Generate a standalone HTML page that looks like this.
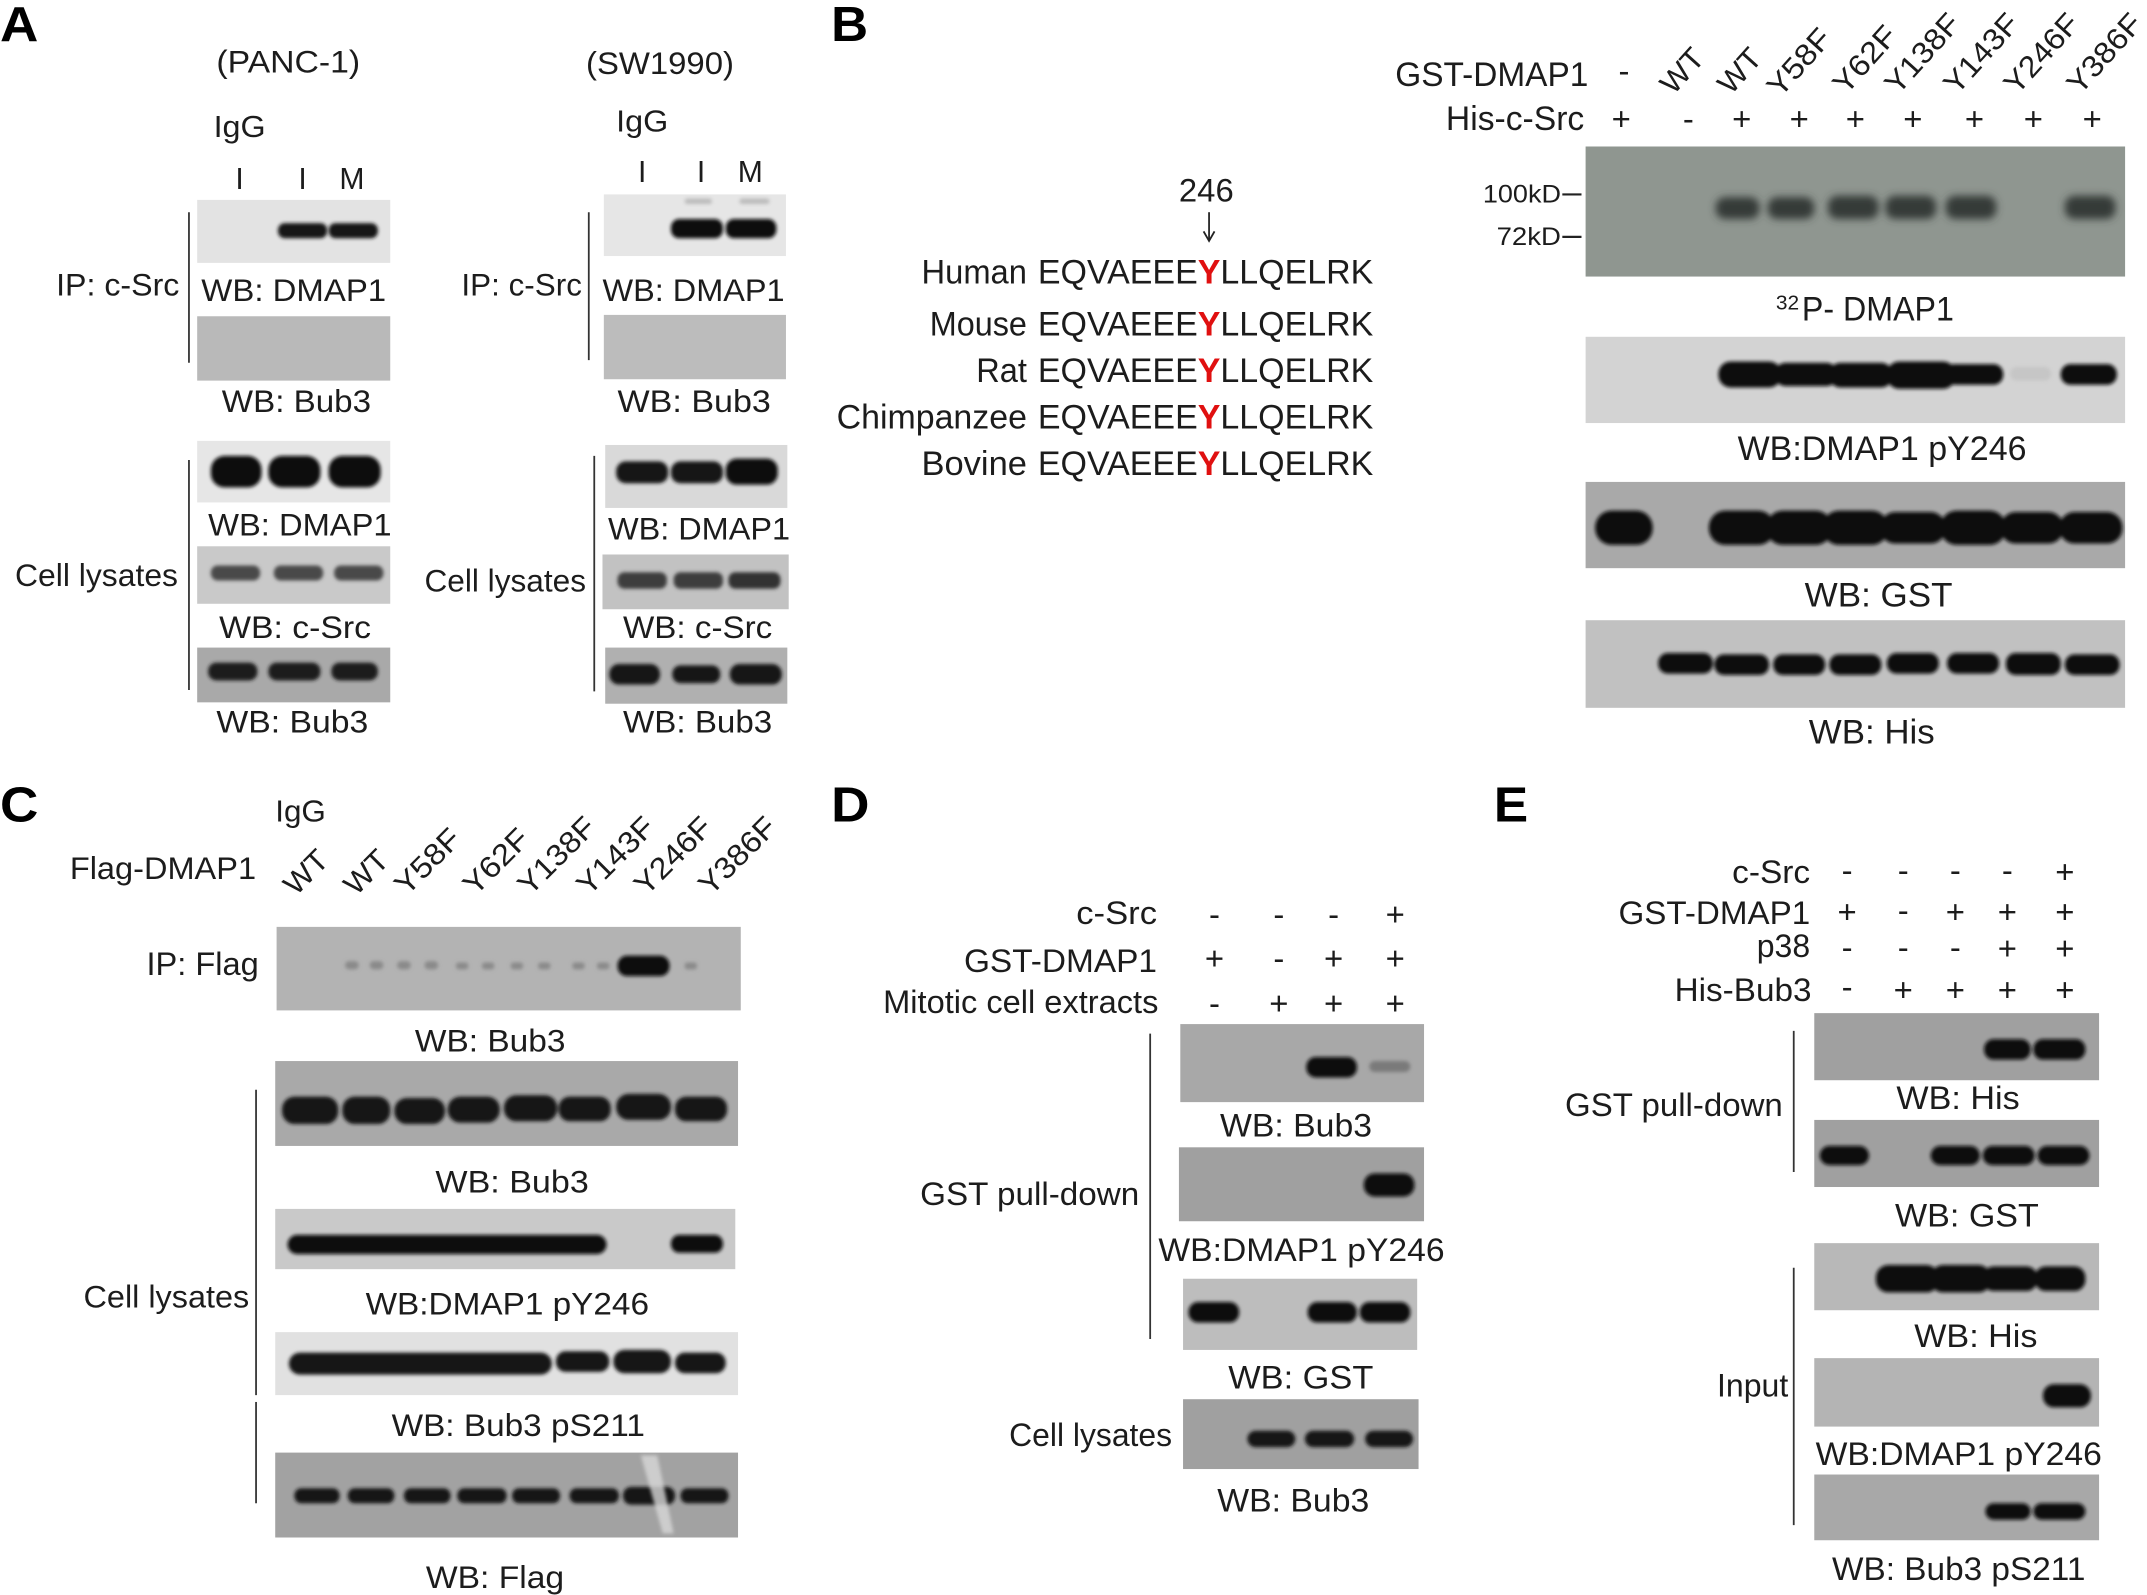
<!DOCTYPE html>
<html><head><meta charset="utf-8"><style>
html,body{margin:0;padding:0;background:#fff;}
svg{display:block;}
text{font-family:"Liberation Sans",Arial,sans-serif;fill:#1c1c1c;}
.bold{font-weight:bold;fill:#000;}
</style></head><body>
<svg width="2147" height="1595" viewBox="0 0 1568 1165" preserveAspectRatio="none" xmlns="http://www.w3.org/2000/svg">
<defs>
<filter id="b" x="-20%" y="-50%" width="140%" height="200%"><feGaussianBlur stdDeviation="1.3"/></filter>
<filter id="b3" x="-30%" y="-80%" width="160%" height="260%"><feGaussianBlur stdDeviation="3"/></filter>
</defs>
<rect width="1568" height="1165" fill="#fff"/>

<!-- ================= PANEL A ================= -->
<text x="0" y="30" font-size="36" class="bold" textLength="28" lengthAdjust="spacingAndGlyphs">A</text>
<text x="158" y="53" font-size="23" textLength="105" lengthAdjust="spacingAndGlyphs">(PANC-1)</text>
<text x="428" y="54" font-size="23" textLength="108" lengthAdjust="spacingAndGlyphs">(SW1990)</text>
<text x="156" y="100" font-size="22" textLength="38" lengthAdjust="spacingAndGlyphs">IgG</text>
<text x="450" y="96" font-size="22" textLength="38" lengthAdjust="spacingAndGlyphs">IgG</text>
<g font-size="22" text-anchor="middle">
<text x="175" y="138">I</text><text x="221" y="138">I</text><text x="257" y="138">M</text>
<text x="469" y="133">I</text><text x="512" y="133">I</text><text x="548" y="133">M</text>
</g>
<!-- left column -->
<rect x="144" y="146" width="141" height="46" fill="#e3e3e3"/>
<rect x="203" y="163" width="36" height="11" rx="5" fill="#141414" filter="url(#b)"/>
<rect x="240" y="163" width="36" height="11" rx="5" fill="#141414" filter="url(#b)"/>
<text x="147" y="220" font-size="23" textLength="135" lengthAdjust="spacingAndGlyphs">WB: DMAP1</text>
<rect x="144" y="231" width="141" height="47" fill="#b9b9b9"/>
<text x="162" y="301" font-size="23" textLength="109" lengthAdjust="spacingAndGlyphs">WB: Bub3</text>
<line x1="138" y1="155" x2="138" y2="265" stroke="#333" stroke-width="1.3"/>
<text x="41" y="216" font-size="23" textLength="90" lengthAdjust="spacingAndGlyphs">IP: c-Src</text>

<rect x="144" y="322" width="141" height="45" fill="#e6e6e6"/>
<rect x="154" y="333" width="37" height="23" rx="10" fill="#111" filter="url(#b)"/>
<rect x="196" y="333" width="38" height="23" rx="10" fill="#111" filter="url(#b)"/>
<rect x="240" y="333" width="38" height="23" rx="10" fill="#111" filter="url(#b)"/>
<text x="152" y="391" font-size="23" textLength="134" lengthAdjust="spacingAndGlyphs">WB: DMAP1</text>
<rect x="144" y="399" width="141" height="42" fill="#c9c9c9"/>
<rect x="154" y="413" width="36" height="11" rx="5" fill="#4a4a4a" filter="url(#b)"/>
<rect x="200" y="413" width="36" height="11" rx="5" fill="#4a4a4a" filter="url(#b)"/>
<rect x="244" y="413" width="36" height="11" rx="5" fill="#4a4a4a" filter="url(#b)"/>
<text x="160" y="466" font-size="23" textLength="111" lengthAdjust="spacingAndGlyphs">WB: c-Src</text>
<rect x="144" y="473" width="141" height="40" fill="#a9a9a9"/>
<rect x="152" y="484" width="36" height="13" rx="6" fill="#1a1a1a" filter="url(#b)"/>
<rect x="196" y="484" width="38" height="13" rx="6" fill="#1a1a1a" filter="url(#b)"/>
<rect x="242" y="484" width="34" height="13" rx="6" fill="#1a1a1a" filter="url(#b)"/>
<text x="158" y="535" font-size="23" textLength="111" lengthAdjust="spacingAndGlyphs">WB: Bub3</text>
<line x1="138" y1="336" x2="138" y2="504" stroke="#333" stroke-width="1.3"/>
<text x="11" y="428" font-size="23" textLength="119" lengthAdjust="spacingAndGlyphs">Cell lysates</text>

<!-- right column -->
<rect x="441" y="142" width="133" height="45" fill="#e6e6e6"/>
<rect x="500" y="145" width="20" height="4" rx="2" fill="#bcbcbc" filter="url(#b)"/>
<rect x="540" y="145" width="22" height="4" rx="2" fill="#bcbcbc" filter="url(#b)"/>
<rect x="490" y="160" width="38" height="14" rx="6" fill="#111" filter="url(#b)"/>
<rect x="530" y="160" width="37" height="14" rx="6" fill="#111" filter="url(#b)"/>
<text x="440" y="220" font-size="23" textLength="133" lengthAdjust="spacingAndGlyphs">WB: DMAP1</text>
<rect x="441" y="230" width="133" height="47" fill="#bcbcbc"/>
<text x="451" y="301" font-size="23" textLength="112" lengthAdjust="spacingAndGlyphs">WB: Bub3</text>
<line x1="430" y1="155" x2="430" y2="263" stroke="#333" stroke-width="1.3"/>
<text x="337" y="216" font-size="23" textLength="88" lengthAdjust="spacingAndGlyphs">IP: c-Src</text>

<rect x="442" y="325" width="133" height="46" fill="#d9d9d9"/>
<rect x="450" y="337" width="38" height="16" rx="7" fill="#141414" filter="url(#b)"/>
<rect x="490" y="337" width="38" height="16" rx="7" fill="#141414" filter="url(#b)"/>
<rect x="530" y="335" width="38" height="19" rx="8" fill="#111" filter="url(#b)"/>
<text x="444" y="394" font-size="23" textLength="133" lengthAdjust="spacingAndGlyphs">WB: DMAP1</text>
<rect x="440" y="405" width="136" height="40" fill="#c2c2c2"/>
<rect x="451" y="418" width="36" height="12" rx="5" fill="#3c3c3c" filter="url(#b)"/>
<rect x="492" y="418" width="36" height="12" rx="5" fill="#3c3c3c" filter="url(#b)"/>
<rect x="532" y="418" width="38" height="12" rx="5" fill="#303030" filter="url(#b)"/>
<text x="455" y="466" font-size="23" textLength="109" lengthAdjust="spacingAndGlyphs">WB: c-Src</text>
<rect x="442" y="473" width="133" height="41" fill="#b0b0b0"/>
<rect x="445" y="485" width="37" height="15" rx="7" fill="#141414" filter="url(#b)"/>
<rect x="491" y="486" width="35" height="13" rx="6" fill="#141414" filter="url(#b)"/>
<rect x="533" y="485" width="38" height="15" rx="7" fill="#141414" filter="url(#b)"/>
<text x="455" y="535" font-size="23" textLength="109" lengthAdjust="spacingAndGlyphs">WB: Bub3</text>
<line x1="434" y1="333" x2="434" y2="505" stroke="#333" stroke-width="1.3"/>
<text x="310" y="432" font-size="23" textLength="118" lengthAdjust="spacingAndGlyphs">Cell lysates</text>

<!-- ================= PANEL B ================= -->
<text x="607" y="30" font-size="36" class="bold" textLength="27" lengthAdjust="spacingAndGlyphs">B</text>
<text x="1019" y="63" font-size="25" textLength="141" lengthAdjust="spacingAndGlyphs">GST-DMAP1</text>
<text x="1186" y="60" font-size="24" text-anchor="middle">-</text>
<g font-size="22">
<text transform="translate(1222,70) rotate(-48)" textLength="36" lengthAdjust="spacingAndGlyphs">WT</text>
<text transform="translate(1264,70) rotate(-48)" textLength="36" lengthAdjust="spacingAndGlyphs">WT</text>
<text transform="translate(1300,72) rotate(-48)" textLength="58" lengthAdjust="spacingAndGlyphs">Y58F</text>
<text transform="translate(1348,70) rotate(-48)" textLength="58" lengthAdjust="spacingAndGlyphs">Y62F</text>
<text transform="translate(1386,70) rotate(-48)" textLength="70" lengthAdjust="spacingAndGlyphs">Y138F</text>
<text transform="translate(1429,70) rotate(-48)" textLength="70" lengthAdjust="spacingAndGlyphs">Y143F</text>
<text transform="translate(1473,70) rotate(-48)" textLength="70" lengthAdjust="spacingAndGlyphs">Y246F</text>
<text transform="translate(1519,70) rotate(-48)" textLength="70" lengthAdjust="spacingAndGlyphs">Y386F</text>
</g>
<text x="1056" y="95" font-size="25" textLength="101" lengthAdjust="spacingAndGlyphs">His-c-Src</text>
<g font-size="24" text-anchor="middle">
<text x="1184" y="95">+</text><text x="1233" y="95">-</text><text x="1272" y="95">+</text>
<text x="1314" y="95">+</text><text x="1355" y="95">+</text><text x="1397" y="95">+</text>
<text x="1442" y="95">+</text><text x="1485" y="95">+</text><text x="1528" y="95">+</text>
</g>
<!-- 32P gel -->
<rect x="1158" y="107" width="394" height="95" fill="#8f9690"/>
<g fill="#353a37" filter="url(#b3)">
<rect x="1253" y="144" width="32" height="16" rx="7"/>
<rect x="1291" y="144" width="34" height="16" rx="7"/>
<rect x="1335" y="143" width="37" height="17" rx="7"/>
<rect x="1377" y="143" width="37" height="17" rx="7"/>
<rect x="1421" y="143" width="37" height="17" rx="7"/>
<rect x="1508" y="143" width="37" height="17" rx="7"/>
</g>
<text x="1083" y="148" font-size="18" textLength="57" lengthAdjust="spacingAndGlyphs">100kD</text>
<line x1="1141" y1="142" x2="1155" y2="142" stroke="#222" stroke-width="1.6"/>
<text x="1093" y="179" font-size="18" textLength="47" lengthAdjust="spacingAndGlyphs">72kD</text>
<line x1="1141" y1="173" x2="1155" y2="173" stroke="#222" stroke-width="1.6"/>
<text x="1297" y="226" font-size="15" textLength="17" lengthAdjust="spacingAndGlyphs">32</text>
<text x="1316" y="234" font-size="25" textLength="111" lengthAdjust="spacingAndGlyphs">P- DMAP1</text>
<!-- pY246 -->
<rect x="1158" y="246" width="394" height="63" fill="#d3d3d3"/>
<g fill="#0e0e0e" filter="url(#b)">
<rect x="1255" y="264" width="46" height="19" rx="9"/>
<rect x="1296" y="265" width="46" height="17" rx="8"/>
<rect x="1336" y="265" width="46" height="18" rx="8"/>
<rect x="1378" y="264" width="50" height="20" rx="9"/>
<rect x="1420" y="266" width="43" height="15" rx="7"/>
<rect x="1505" y="266" width="41" height="15" rx="7"/>
</g>
<rect x="1468" y="268" width="30" height="10" rx="5" fill="#c6c6c6" filter="url(#b)"/>
<text x="1269" y="336" font-size="25" textLength="211" lengthAdjust="spacingAndGlyphs">WB:DMAP1 pY246</text>
<!-- GST -->
<rect x="1158" y="352" width="394" height="63" fill="#a9a9a9"/>
<g fill="#0c0c0c" filter="url(#b)">
<rect x="1165" y="373" width="42" height="25" rx="12"/>
<rect x="1248" y="373" width="48" height="25" rx="12"/>
<rect x="1290" y="373" width="48" height="25" rx="12"/>
<rect x="1331" y="373" width="48" height="25" rx="12"/>
<rect x="1373" y="374" width="48" height="23" rx="11"/>
<rect x="1417" y="373" width="48" height="25" rx="12"/>
<rect x="1461" y="374" width="46" height="23" rx="11"/>
<rect x="1504" y="374" width="46" height="23" rx="11"/>
</g>
<text x="1318" y="443" font-size="25" textLength="108" lengthAdjust="spacingAndGlyphs">WB: GST</text>
<!-- His -->
<rect x="1158" y="453" width="394" height="64" fill="#c1c1c1"/>
<g fill="#0e0e0e" filter="url(#b)">
<rect x="1211" y="477" width="40" height="15" rx="7"/>
<rect x="1252" y="478" width="40" height="15" rx="7"/>
<rect x="1295" y="478" width="38" height="15" rx="7"/>
<rect x="1336" y="478" width="38" height="15" rx="7"/>
<rect x="1378" y="477" width="38" height="15" rx="7"/>
<rect x="1422" y="477" width="38" height="15" rx="7"/>
<rect x="1465" y="477" width="40" height="16" rx="7"/>
<rect x="1508" y="478" width="40" height="15" rx="7"/>
</g>
<text x="1321" y="543" font-size="25" textLength="92" lengthAdjust="spacingAndGlyphs">WB: His</text>

<!-- Sequence alignment -->
<text x="861" y="147" font-size="24" textLength="40" lengthAdjust="spacingAndGlyphs">246</text>
<line x1="883" y1="155" x2="883" y2="175" stroke="#222" stroke-width="1.3"/>
<path d="M879 169 L883 176 L887 169" fill="none" stroke="#222" stroke-width="1.3"/>
<g font-size="25">
<text x="673" y="207" textLength="77" lengthAdjust="spacingAndGlyphs">Human</text>
<text x="758" y="207" textLength="245" lengthAdjust="spacingAndGlyphs">EQVAEEE<tspan fill="#e01010" font-weight="bold">Y</tspan>LLQELRK</text>
<text x="679" y="245" textLength="71" lengthAdjust="spacingAndGlyphs">Mouse</text>
<text x="758" y="245" textLength="245" lengthAdjust="spacingAndGlyphs">EQVAEEE<tspan fill="#e01010" font-weight="bold">Y</tspan>LLQELRK</text>
<text x="713" y="279" textLength="37" lengthAdjust="spacingAndGlyphs">Rat</text>
<text x="758" y="279" textLength="245" lengthAdjust="spacingAndGlyphs">EQVAEEE<tspan fill="#e01010" font-weight="bold">Y</tspan>LLQELRK</text>
<text x="611" y="313" textLength="139" lengthAdjust="spacingAndGlyphs">Chimpanzee</text>
<text x="758" y="313" textLength="245" lengthAdjust="spacingAndGlyphs">EQVAEEE<tspan fill="#e01010" font-weight="bold">Y</tspan>LLQELRK</text>
<text x="673" y="347" textLength="77" lengthAdjust="spacingAndGlyphs">Bovine</text>
<text x="758" y="347" textLength="245" lengthAdjust="spacingAndGlyphs">EQVAEEE<tspan fill="#e01010" font-weight="bold">Y</tspan>LLQELRK</text>
</g>

<!-- ================= PANEL C ================= -->
<text x="0" y="600" font-size="36" class="bold" textLength="28" lengthAdjust="spacingAndGlyphs">C</text>
<text x="201" y="600" font-size="22" textLength="37" lengthAdjust="spacingAndGlyphs">IgG</text>
<text x="51" y="642" font-size="23" textLength="136" lengthAdjust="spacingAndGlyphs">Flag-DMAP1</text>
<g font-size="22">
<text transform="translate(216,655) rotate(-45)" textLength="36" lengthAdjust="spacingAndGlyphs">WT</text>
<text transform="translate(260,655) rotate(-45)" textLength="36" lengthAdjust="spacingAndGlyphs">WT</text>
<text transform="translate(297,655) rotate(-45)" textLength="58" lengthAdjust="spacingAndGlyphs">Y58F</text>
<text transform="translate(347,655) rotate(-45)" textLength="58" lengthAdjust="spacingAndGlyphs">Y62F</text>
<text transform="translate(387,655) rotate(-45)" textLength="70" lengthAdjust="spacingAndGlyphs">Y138F</text>
<text transform="translate(430,655) rotate(-45)" textLength="70" lengthAdjust="spacingAndGlyphs">Y143F</text>
<text transform="translate(472,655) rotate(-45)" textLength="70" lengthAdjust="spacingAndGlyphs">Y246F</text>
<text transform="translate(519,655) rotate(-45)" textLength="70" lengthAdjust="spacingAndGlyphs">Y386F</text>
</g>
<rect x="202" y="677" width="339" height="61" fill="#b3b3b3"/>
<g fill="#8a8a8a" filter="url(#b)">
<rect x="252" y="702" width="10" height="6" rx="3"/><rect x="270" y="702" width="10" height="6" rx="3"/>
<rect x="290" y="702" width="10" height="6" rx="3"/><rect x="310" y="702" width="10" height="6" rx="3"/>
<rect x="333" y="703" width="9" height="5" rx="2"/><rect x="352" y="703" width="9" height="5" rx="2"/>
<rect x="373" y="703" width="9" height="5" rx="2"/><rect x="393" y="703" width="9" height="5" rx="2"/>
<rect x="418" y="703" width="9" height="5" rx="2"/><rect x="436" y="703" width="9" height="5" rx="2"/>
<rect x="500" y="703" width="9" height="5" rx="2"/>
</g>
<rect x="451" y="698" width="38" height="15" rx="7" fill="#0c0c0c" filter="url(#b)"/>
<text x="107" y="712" font-size="24" textLength="82" lengthAdjust="spacingAndGlyphs">IP: Flag</text>
<text x="303" y="768" font-size="23" textLength="110" lengthAdjust="spacingAndGlyphs">WB: Bub3</text>
<rect x="201" y="775" width="338" height="62" fill="#a9a9a9"/>
<g fill="#121212" filter="url(#b)">
<rect x="206" y="801" width="41" height="20" rx="9"/><rect x="250" y="801" width="35" height="20" rx="9"/>
<rect x="288" y="802" width="37" height="19" rx="9"/><rect x="327" y="801" width="38" height="19" rx="9"/>
<rect x="368" y="800" width="39" height="19" rx="9"/><rect x="408" y="801" width="38" height="18" rx="8"/>
<rect x="450" y="799" width="40" height="19" rx="9"/><rect x="493" y="801" width="38" height="18" rx="8"/>
</g>
<text x="318" y="871" font-size="23" textLength="112" lengthAdjust="spacingAndGlyphs">WB: Bub3</text>
<rect x="201" y="883" width="336" height="44" fill="#c9c9c9"/>
<g fill="#111" filter="url(#b)">
<rect x="210" y="902" width="233" height="14" rx="7"/>
<rect x="490" y="902" width="38" height="13" rx="6"/>
</g>
<text x="267" y="960" font-size="23" textLength="207" lengthAdjust="spacingAndGlyphs">WB:DMAP1 pY246</text>
<rect x="201" y="973" width="338" height="46" fill="#e1e1e1"/>
<g fill="#131313" filter="url(#b)">
<rect x="211" y="988" width="192" height="16" rx="8"/>
<rect x="406" y="987" width="39" height="15" rx="7"/>
<rect x="448" y="986" width="42" height="17" rx="8"/>
<rect x="493" y="988" width="37" height="15" rx="7"/>
</g>
<text x="286" y="1049" font-size="23" textLength="185" lengthAdjust="spacingAndGlyphs">WB: Bub3 pS211</text>
<rect x="201" y="1061" width="338" height="62" fill="#a2a2a2"/>
<g fill="#141414" filter="url(#b)">
<rect x="215" y="1087" width="33" height="11" rx="5"/><rect x="254" y="1087" width="34" height="11" rx="5"/>
<rect x="295" y="1087" width="34" height="11" rx="5"/><rect x="334" y="1087" width="36" height="11" rx="5"/>
<rect x="374" y="1087" width="35" height="11" rx="5"/><rect x="416" y="1087" width="36" height="11" rx="5"/>
<rect x="455" y="1086" width="38" height="13" rx="6"/><rect x="497" y="1087" width="35" height="11" rx="5"/>
</g>
<path d="M468 1063 L480 1063 L492 1120 L484 1120 Z" fill="#d8d8d8" opacity="0.8" filter="url(#b)"/>
<text x="311" y="1160" font-size="23" textLength="101" lengthAdjust="spacingAndGlyphs">WB: Flag</text>
<text x="61" y="955" font-size="23" textLength="121" lengthAdjust="spacingAndGlyphs">Cell lysates</text>
<line x1="187" y1="796" x2="187" y2="1019" stroke="#333" stroke-width="1.3"/>
<line x1="187" y1="1024" x2="187" y2="1098" stroke="#333" stroke-width="1.3"/>

<!-- ================= PANEL D ================= -->
<text x="607" y="600" font-size="36" class="bold" textLength="28" lengthAdjust="spacingAndGlyphs">D</text>
<text x="786" y="675" font-size="24" textLength="59" lengthAdjust="spacingAndGlyphs">c-Src</text>
<text x="704" y="710" font-size="24" textLength="141" lengthAdjust="spacingAndGlyphs">GST-DMAP1</text>
<text x="645" y="740" font-size="24" textLength="201" lengthAdjust="spacingAndGlyphs">Mitotic cell extracts</text>
<g font-size="24" text-anchor="middle">
<text x="887" y="676">-</text><text x="934" y="676">-</text><text x="974" y="676">-</text><text x="1019" y="676">+</text>
<text x="887" y="708">+</text><text x="934" y="708">-</text><text x="974" y="708">+</text><text x="1019" y="708">+</text>
<text x="887" y="741">-</text><text x="934" y="741">+</text><text x="974" y="741">+</text><text x="1019" y="741">+</text>
</g>
<rect x="862" y="748" width="178" height="57" fill="#a8a8a8"/>
<rect x="954" y="772" width="37" height="15" rx="7" fill="#0e0e0e" filter="url(#b)"/>
<rect x="1000" y="775" width="30" height="8" rx="4" fill="#7a7a7a" filter="url(#b)"/>
<text x="891" y="830" font-size="24" textLength="111" lengthAdjust="spacingAndGlyphs">WB: Bub3</text>
<rect x="861" y="838" width="179" height="54" fill="#a0a0a0"/>
<rect x="996" y="857" width="37" height="17" rx="8" fill="#0c0c0c" filter="url(#b)"/>
<text x="846" y="921" font-size="24" textLength="209" lengthAdjust="spacingAndGlyphs">WB:DMAP1 pY246</text>
<rect x="864" y="934" width="171" height="52" fill="#bdbdbd"/>
<g fill="#0e0e0e" filter="url(#b)">
<rect x="868" y="951" width="37" height="15" rx="7"/>
<rect x="955" y="951" width="36" height="15" rx="7"/>
<rect x="993" y="951" width="37" height="15" rx="7"/>
</g>
<text x="897" y="1014" font-size="24" textLength="106" lengthAdjust="spacingAndGlyphs">WB: GST</text>
<rect x="864" y="1022" width="172" height="51" fill="#a0a0a0"/>
<g fill="#141414" filter="url(#b)">
<rect x="911" y="1045" width="35" height="12" rx="6"/>
<rect x="953" y="1045" width="36" height="12" rx="6"/>
<rect x="997" y="1045" width="35" height="12" rx="6"/>
</g>
<text x="889" y="1104" font-size="24" textLength="111" lengthAdjust="spacingAndGlyphs">WB: Bub3</text>
<text x="737" y="1056" font-size="24" textLength="119" lengthAdjust="spacingAndGlyphs">Cell lysates</text>
<text x="672" y="880" font-size="24" textLength="160" lengthAdjust="spacingAndGlyphs">GST pull-down</text>
<line x1="840" y1="755" x2="840" y2="978" stroke="#333" stroke-width="1.3"/>

<!-- ================= PANEL E ================= -->
<text x="1091" y="600" font-size="36" class="bold" textLength="25" lengthAdjust="spacingAndGlyphs">E</text>
<text x="1265" y="645" font-size="24" textLength="57" lengthAdjust="spacingAndGlyphs">c-Src</text>
<text x="1182" y="675" font-size="24" textLength="140" lengthAdjust="spacingAndGlyphs">GST-DMAP1</text>
<text x="1283" y="699" font-size="24" textLength="39" lengthAdjust="spacingAndGlyphs">p38</text>
<text x="1223" y="731" font-size="24" textLength="100" lengthAdjust="spacingAndGlyphs">His-Bub3</text>
<g font-size="24" text-anchor="middle">
<text x="1349" y="644">-</text><text x="1390" y="644">-</text><text x="1428" y="644">-</text><text x="1466" y="644">-</text><text x="1508" y="645">+</text>
<text x="1349" y="674">+</text><text x="1390" y="673">-</text><text x="1428" y="674">+</text><text x="1466" y="674">+</text><text x="1508" y="674">+</text>
<text x="1349" y="700">-</text><text x="1390" y="700">-</text><text x="1428" y="700">-</text><text x="1466" y="701">+</text><text x="1508" y="701">+</text>
<text x="1349" y="729">-</text><text x="1390" y="731">+</text><text x="1428" y="731">+</text><text x="1466" y="731">+</text><text x="1508" y="731">+</text>
</g>
<rect x="1325" y="740" width="208" height="49" fill="#a0a0a0"/>
<g fill="#0c0c0c" filter="url(#b)">
<rect x="1449" y="759" width="34" height="15" rx="7"/>
<rect x="1485" y="759" width="38" height="15" rx="7"/>
</g>
<text x="1385" y="810" font-size="24" textLength="90" lengthAdjust="spacingAndGlyphs">WB: His</text>
<rect x="1325" y="818" width="208" height="49" fill="#a0a0a0"/>
<g fill="#0e0e0e" filter="url(#b)">
<rect x="1329" y="837" width="36" height="14" rx="7"/>
<rect x="1410" y="837" width="36" height="14" rx="7"/>
<rect x="1448" y="837" width="38" height="14" rx="7"/>
<rect x="1488" y="837" width="38" height="14" rx="7"/>
</g>
<text x="1384" y="896" font-size="24" textLength="105" lengthAdjust="spacingAndGlyphs">WB: GST</text>
<rect x="1325" y="908" width="208" height="49" fill="#b8b8b8"/>
<g fill="#0c0c0c" filter="url(#b)">
<rect x="1370" y="924" width="46" height="20" rx="9"/>
<rect x="1410" y="924" width="44" height="20" rx="9"/>
<rect x="1448" y="925" width="40" height="18" rx="8"/>
<rect x="1486" y="925" width="37" height="18" rx="8"/>
</g>
<text x="1398" y="984" font-size="24" textLength="90" lengthAdjust="spacingAndGlyphs">WB: His</text>
<rect x="1325" y="992" width="208" height="50" fill="#b4b4b4"/>
<rect x="1492" y="1011" width="35" height="17" rx="8" fill="#0c0c0c" filter="url(#b)"/>
<text x="1326" y="1070" font-size="24" textLength="209" lengthAdjust="spacingAndGlyphs">WB:DMAP1 pY246</text>
<rect x="1325" y="1077" width="208" height="48" fill="#a8a8a8"/>
<g fill="#0e0e0e" filter="url(#b)">
<rect x="1450" y="1098" width="33" height="12" rx="6"/>
<rect x="1485" y="1098" width="38" height="12" rx="6"/>
</g>
<text x="1338" y="1154" font-size="24" textLength="185" lengthAdjust="spacingAndGlyphs">WB: Bub3 pS211</text>
<text x="1143" y="815" font-size="24" textLength="159" lengthAdjust="spacingAndGlyphs">GST pull-down</text>
<text x="1254" y="1020" font-size="24" textLength="52" lengthAdjust="spacingAndGlyphs">Input</text>
<line x1="1310" y1="753" x2="1310" y2="856" stroke="#333" stroke-width="1.3"/>
<line x1="1310" y1="926" x2="1310" y2="1114" stroke="#333" stroke-width="1.3"/>
</svg>
</body></html>
